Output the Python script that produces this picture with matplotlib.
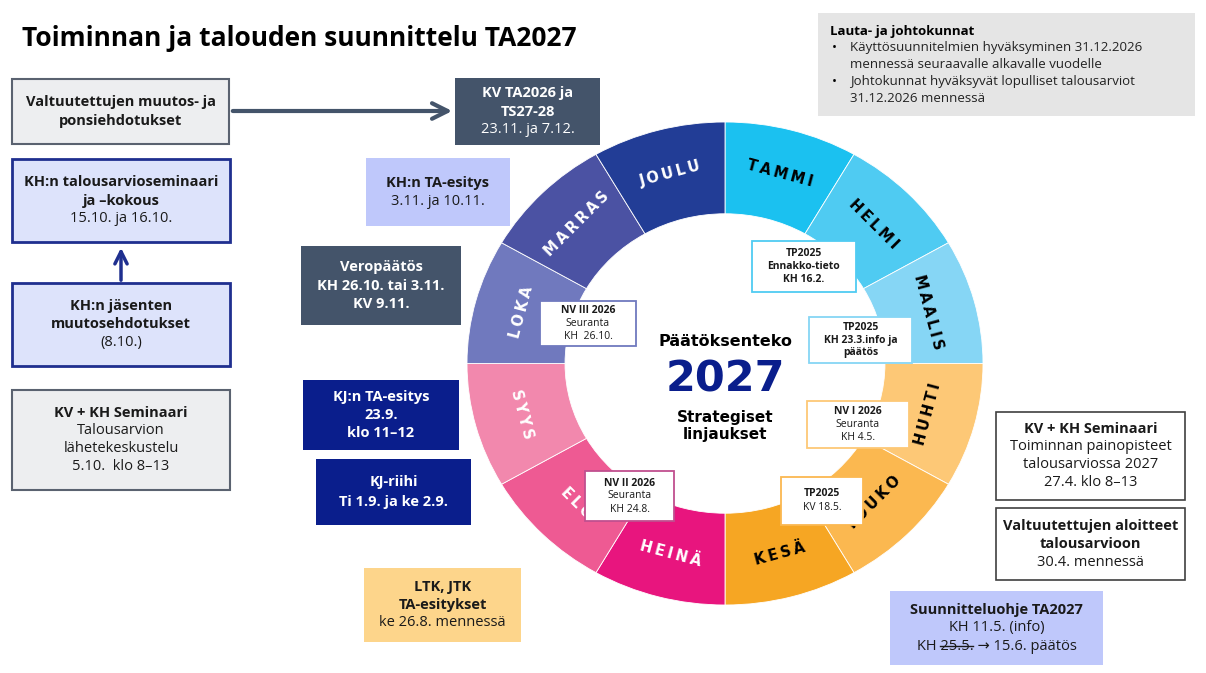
import matplotlib
matplotlib.use("Agg")
import matplotlib.pyplot as plt
from matplotlib.patches import Rectangle
import numpy as np

plt.rcParams['font.family'] = ['Open Sans', 'DejaVu Sans']

months = ["TAMMI", "HELMI", "MAALIS", "HUHTI", "TOUKO", "KESÄ",
          "HEINÄ", "ELO", "SYYS", "LOKA", "MARRAS", "JOULU"]
month_colors = ["#1BC1F0", "#4FCBF2", "#86D6F5", "#FDC876", "#FBB850", "#F6A623",
                "#E8157E", "#EE5A93", "#F288AD", "#7079BE", "#4B52A3", "#223D96"]
month_text = ["black"] * 6 + ["white"] * 6
month_share = [1] * 12

W, H = 1206, 673
fig = plt.figure(figsize=(W / 100, H / 100), dpi=100)
fig.patch.set_facecolor('white')

# ring (drawn underneath the main annotation axes)
pax = fig.add_axes([467 / W, (H - 605) / H, 516 / W, 483 / H])
pax.set_zorder(0)
pax.pie(month_share, colors=month_colors, startangle=90, counterclock=False,
        wedgeprops=dict(width=0.38, edgecolor='white', linewidth=0.6))
pax.set_aspect('auto')
pax.set_xlim(-1, 1)
pax.set_ylim(-1, 1)
pax.axis('off')
for i, (m, tc) in enumerate(zip(months, month_text)):
    mid = 90 - 30 * i - 15
    a = np.deg2rad(mid)
    r = 0.815
    rot = mid - 90 if np.sin(a) >= 0 else mid + 90
    rot = (rot + 180) % 360 - 180
    pax.text(r * np.cos(a), r * np.sin(a), "\u2009".join(m), rotation=rot, ha='center', va='center',
             fontsize=10.5, fontweight='bold', color=tc, rotation_mode='anchor', family='DejaVu Sans')

ax = fig.add_axes([0, 0, 1, 1])
ax.set_zorder(1)
ax.patch.set_visible(False)
ax.set_xlim(0, W)
ax.set_ylim(H, 0)
ax.axis('off')

ax.text(22, 38, "Toiminnan ja talouden suunnittelu TA2027", fontsize=19,
        fontweight='bold', va='center', ha='left')


def box(x0, y0, x1, y1, face, edge=None, lw=1.5, lines=(), color='#1a1a1a', size=10.5, gap=None):
    ax.add_patch(Rectangle((x0, y0), x1 - x0, y1 - y0, facecolor=face,
                           edgecolor=edge if edge else 'none', linewidth=lw, zorder=3))
    n = len(lines)
    g = gap if gap else size * 1.75
    cy = (y0 + y1) / 2
    for i, (t, b) in enumerate(lines):
        y = cy + (i - (n - 1) / 2) * g
        ax.text((x0 + x1) / 2, y, t, ha='center', va='center', fontsize=size,
                fontweight='bold' if b else 'normal', color=color, zorder=4)


GREY, GEDGE = "#EDEEF0", "#5A6270"
LBLUE, DBLUE = "#DDE3FB", "#1F2F8F"
SLATE, NAVY, LAV = "#44546A", "#0A1E8C", "#BFC8FB"

# left column
box(12, 79, 229, 144, GREY, GEDGE, 1.5, [("Valtuutettujen muutos- ja", 1), ("ponsiehdotukset", 1)])
box(12, 159, 230, 242, LBLUE, DBLUE, 2, [("KH:n talousarvioseminaari", 1), ("ja –kokous", 1), ("15.10. ja 16.10.", 0)])
box(12, 283, 230, 366, LBLUE, DBLUE, 2, [("KH:n jäsenten", 1), ("muutosehdotukset", 1), ("(8.10.)", 0)])
ax.annotate("", xy=(121, 245), xytext=(121, 283),
            arrowprops=dict(arrowstyle='->', color=DBLUE, lw=2.5, mutation_scale=22), zorder=5)
box(12, 390, 230, 490, GREY, GEDGE, 1.5, [("KV + KH Seminaari", 1), ("Talousarvion", 0),
                                         ("lähetekeskustelu", 0), ("5.10.  klo 8–13", 0)], gap=18)

ax.annotate("", xy=(455, 111), xytext=(230, 111),
            arrowprops=dict(arrowstyle='->', color=SLATE, lw=3, mutation_scale=28), zorder=2)
box(455, 78, 600, 145, SLATE, None, 0, [("KV TA2026 ja", 1), ("TS27-28", 1), ("23.11. ja 7.12.", 0)], color='white', gap=18)
box(366, 158, 510, 226, LAV, None, 0, [("KH:n TA-esitys", 1), ("3.11. ja 10.11.", 0)], gap=19)
box(301, 246, 461, 325, SLATE, None, 0, [("Veropäätös", 1), ("KH 26.10. tai 3.11.", 1), ("KV 9.11.", 1)], color='white', gap=18)
box(303, 380, 459, 450, NAVY, None, 0, [("KJ:n TA-esitys", 1), ("23.9.", 1), ("klo 11–12", 1)], color='white', gap=18)
box(316, 459, 471, 525, NAVY, None, 0, [("KJ-riihi", 1), ("Ti 1.9. ja ke 2.9.", 1)], color='white', gap=20)
box(364, 568, 521, 642, "#FDD58B", None, 0, [("LTK, JTK", 1), ("TA-esitykset", 1), ("ke 26.8. mennessä", 0)], gap=18)

# top-right info box
ax.add_patch(Rectangle((818, 13), 377, 103, facecolor="#E5E5E5", edgecolor='none', zorder=3))
ax.text(830, 31, "Lauta- ja johtokunnat", fontsize=9.5, fontweight='bold', va='center', zorder=4)
info = [("•", "Käyttösuunnitelmien hyväksyminen 31.12.2026", 48),
        ("", "mennessä seuraavalle alkavalle vuodelle", 64),
        ("•", "Johtokunnat hyväksyvät lopulliset talousarviot", 81),
        ("", "31.12.2026 mennessä", 98)]
for b, t, y in info:
    ax.text(832, y, b, fontsize=9.5, va='center', zorder=4)
    ax.text(850, y, t, fontsize=9.5, va='center', color='#222222', zorder=4)

# right boxes
box(996, 412, 1185, 500, "white", "#404040", 1.2, [("KV + KH Seminaari", 1), ("Toiminnan painopisteet", 0),
                                                   ("talousarviossa 2027", 0), ("27.4. klo 8–13", 0)], gap=18)
box(996, 508, 1185, 580, "white", "#404040", 1.2, [("Valtuutettujen aloitteet", 1), ("talousarvioon", 1),
                                                   ("30.4. mennessä", 0)], gap=18)
box(890, 591, 1103, 665, LAV, None, 0, [("Suunnitteluohje TA2027", 1), ("KH 11.5. (info)", 0),
                                        ("KH 25.5. → 15.6. päätös", 0)], gap=18)
ax.plot([940, 973], [646, 646], color='#1a1a1a', lw=1, zorder=5)

# inner boxes
box(752, 241, 856, 292, "white", "#4FCBF2", 1.3, [("TP2025", 1), ("Ennakko-tieto", 1), ("KH 16.2.", 1)], size=7.5, gap=13)
box(809, 317, 912, 363, "white", "#86D6F5", 1.3, [("TP2025", 1), ("KH 23.3.info ja", 1), ("päätös", 1)], size=7.5, gap=13)
box(807, 401, 909, 448, "white", "#FDC876", 1.3, [("NV I 2026", 1), ("Seuranta", 0), ("KH 4.5.", 0)], size=7.5, gap=13)
box(781, 477, 863, 525, "white", "#FBB850", 1.3, [("TP2025", 1), ("KV 18.5.", 0)], size=7.5, gap=14)
box(585, 471, 674, 521, "white", "#C04F8F", 1.3, [("NV II 2026", 1), ("Seuranta", 0), ("KH 24.8.", 0)], size=7.5, gap=13)
box(540, 301, 636, 346, "white", "#7079BE", 1.3, [("NV III 2026", 1), ("Seuranta", 0), ("KH  26.10.", 0)], size=7.5, gap=13)

# center
ax.text(725, 341, "Päätöksenteko", ha='center', va='center', fontsize=11.5, fontweight='heavy', family='DejaVu Sans')
ax.text(725, 379, "2027", ha='center', va='center', fontsize=31, fontweight='heavy', color=NAVY, family='DejaVu Sans')
ax.text(725, 426, "Strategiset\nlinjaukset", ha='center', va='center', fontsize=11, fontweight='heavy',
        linespacing=1.2, family='DejaVu Sans')

fig.savefig("out.png", dpi=100, facecolor='white')
